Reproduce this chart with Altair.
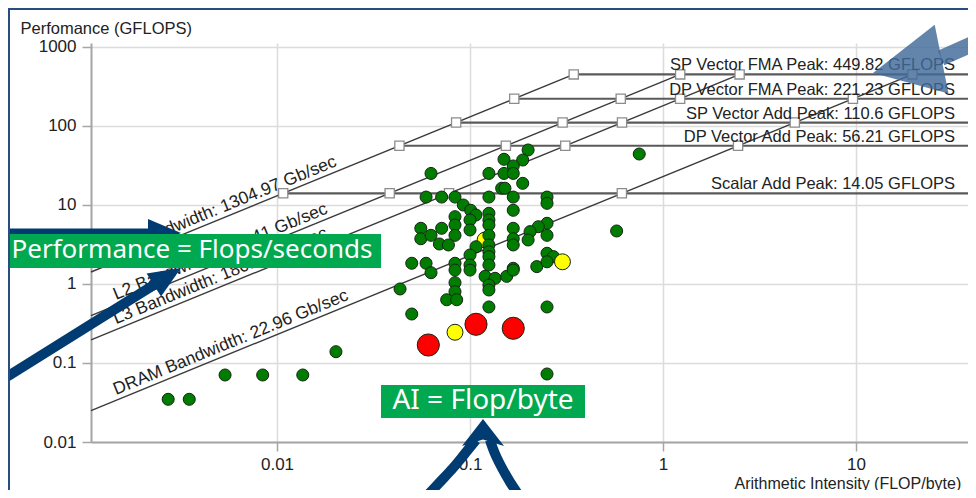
import altair as alt
import pandas as pd

# ---------------- data ----------------
peak_names = ["SP Vector FMA Peak", "DP Vector FMA Peak", "SP Vector Add Peak",
              "DP Vector Add Peak", "Scalar Add Peak"]
peak_values = [449.82, 221.23, 110.6, 56.21, 14.05]

bw_names = ["L1 Bandwidth", "L2 Bandwidth", "L3 Bandwidth", "DRAM Bandwidth"]
bw_values = [1304.97, 366.41, 180.37, 22.96]

green_ai = [0.0628, 0.200, 0.150, 0.1875, 0.1675, 0.1253, 0.150, 0.1675, 0.1875, 0.1459,
            0.1517, 0.0592, 0.0713, 0.0836, 0.1253, 0.1675, 0.2506, 0.2506, 0.0923, 0.1008,
            0.1675, 0.1253, 0.0836, 0.1074, 0.100, 0.1253, 0.0836, 0.1253, 0.0556, 0.0713,
            0.100, 0.1675, 0.2506, 0.226, 0.2047, 0.2506, 0.0556, 0.0628, 0.0836, 0.1253,
            0.1675, 0.200, 0.0694, 0.0773, 0.1074, 0.1253, 0.1675, 0.1253, 0.100, 0.1253,
            0.2506, 0.2705, 0.0499, 0.0592, 0.0836, 0.100, 0.1253, 0.1675, 0.2218, 0.0628,
            0.0836, 0.100, 0.1197, 0.1349, 0.1549, 0.1675, 0.2506, 0.0434, 0.0836, 0.0836,
            0.0757, 0.0853, 0.1253, 0.1253, 0.1253, 0.0499, 0.2506, 0.2506, 0.753, 0.575,
            0.00273, 0.00351, 0.00538, 0.00843, 0.0136, 0.0202]
green_perf = [25.1, 49.7, 37.9, 37.1, 31.2, 25.1, 25.1, 25.1, 18.8, 16.3,
              16.3, 12.6, 12.6, 12.6, 12.6, 12.6, 12.6, 10.5, 10.0, 8.57,
              8.57, 7.85, 7.11, 7.47, 6.46, 6.46, 5.58, 5.58, 5.07, 5.07,
              4.83, 5.07, 5.87, 5.31, 4.60, 4.13, 3.74, 4.13, 4.13, 4.13,
              3.74, 3.61, 3.21, 3.12, 2.96, 3.12, 3.12, 2.56, 2.33, 2.22,
              2.45, 2.22, 1.83, 1.83, 1.83, 1.74, 1.74, 1.58, 1.66, 1.39,
              1.50, 1.50, 1.25, 1.18, 1.25, 1.50, 1.91, 0.865, 1.04, 0.80,
              0.632, 0.632, 0.97, 0.84, 0.512, 0.417, 0.512, 0.0726, 44.2, 4.69,
              0.0347, 0.0347, 0.0705, 0.0705, 0.0705, 0.139]

yellow_hidden_ai = [0.1197]
yellow_hidden_perf = [3.61]
yellow_ai = [0.3013, 0.0836]
yellow_perf = [1.91, 0.245]
red_ai = [0.1074, 0.1675, 0.0608]
red_perf = [0.309, 0.275, 0.169]

x_ticks = [0.01, 0.1, 1, 10]
y_ticks = [0.01, 0.1, 1, 10, 100, 1000]
x_domain = [0.001087, 38.04]
y_domain = [0.01, 1123.6]
label_ai = 0.0015

# ---------------- layout helpers (decoration only) ----------------
W, H = 877, 399
OX, OY = 91, 43          # page position of plot origin


def vx(px):
    return px - OX


def vy(py):
    return py - OY


NAVY = "#003c71"
GREEN_BOX = "#00a84f"
TXT = "#222222"
FONT = "Liberation Sans"

xscale = alt.Scale(type="log", domain=x_domain, nice=False, zero=False)
yscale = alt.Scale(type="log", domain=y_domain, nice=False, zero=False)
xaxis = alt.Axis(values=x_ticks, format="~g", grid=True, gridColor="#dcdcdc", gridWidth=1.5,
                 domainColor="#a5a5a5", domainWidth=2, tickColor="#a5a5a5", tickSize=9,
                 tickWidth=1.5, labelFontSize=17, labelColor=TXT, labelFont=FONT, labelPadding=5,
                 labelFlush=False,
                 title="Arithmetic Intensity (FLOP/byte)", titleFont=FONT, titleFontSize=16,
                 titleFontWeight="normal", titleColor=TXT, titleAlign="left",
                 titleX=vx(734), titleY=46, titleBaseline="alphabetic")
yaxis = alt.Axis(values=y_ticks, format="~g", grid=True, gridColor="#dcdcdc", gridWidth=1.5,
                 domainColor="#a5a5a5", domainWidth=2, tickColor="#a5a5a5", tickSize=9,
                 tickWidth=1.5, labelFontSize=17, labelColor=TXT, labelFont=FONT, labelPadding=6,
                 labelFlush=False,
                 title="Perfomance (GFLOPS)", titleFont=FONT, titleFontSize=16.5,
                 titleFontWeight="normal", titleColor=TXT, titleAngle=0, titleAlign="left",
                 titleX=vx(20), titleY=vy(28), titleBaseline="middle")


def X():
    return alt.X("ai:Q", scale=xscale, axis=xaxis)


def Y():
    return alt.Y("perf:Q", scale=yscale, axis=yaxis)


# ---------------- roofline tables ----------------
top_peak = max(peak_values)
diag_rows = []
for n, b in zip(bw_names, bw_values):
    diag_rows.append({"name": n, "ai": x_domain[0], "perf": b * x_domain[0]})
    diag_rows.append({"name": n, "ai": top_peak / b, "perf": top_peak})
diag_df = pd.DataFrame(diag_rows)

hor_rows = []
for n, p in zip(peak_names, peak_values):
    hor_rows.append({"name": n, "ai": p / bw_values[0], "perf": p})
    hor_rows.append({"name": n, "ai": x_domain[1], "perf": p})
hor_df = pd.DataFrame(hor_rows)

sq_df = pd.DataFrame([{"ai": p / b, "perf": p} for b in bw_values for p in peak_values])

peak_lab_df = pd.DataFrame({"perf": peak_values,
                            "label": [f"{n}: {v} GFLOPS" for n, v in zip(peak_names, peak_values)]})
bw_lab_df = pd.DataFrame({"ai": [label_ai] * len(bw_values),
                          "perf": [b * label_ai for b in bw_values],
                          "label": [f"{n}: {v} Gb/sec" for n, v in zip(bw_names, bw_values)]})

green_df = pd.DataFrame({"ai": green_ai, "perf": green_perf})
yh_df = pd.DataFrame({"ai": yellow_hidden_ai, "perf": yellow_hidden_perf})
yellow_df = pd.DataFrame({"ai": yellow_ai, "perf": yellow_perf})
red_df = pd.DataFrame({"ai": red_ai, "perf": red_perf})

one = pd.DataFrame({"a": [0]})

# ---------------- layers ----------------
diag = alt.Chart(diag_df).mark_line(color="#3a3a3a", strokeWidth=1.4).encode(
    x=X(), y=Y(), detail="name:N")
hor = alt.Chart(hor_df).mark_line(color="#5a5a5a", strokeWidth=2.2).encode(
    x=X(), y=Y(), detail="name:N")
squares = alt.Chart(sq_df).mark_point(shape="square", filled=True, fill="white", stroke="#8c8c8c",
                                      strokeWidth=1.3, size=85, opacity=1).encode(x=X(), y=Y())
peak_labels = alt.Chart(peak_lab_df).mark_text(align="right", baseline="alphabetic", dy=-4,
                                               fontSize=16.5, font=FONT, color=TXT).encode(
    x=alt.value(vx(955)), y=Y(), text="label:N")
bw_labels = alt.Chart(bw_lab_df).mark_text(align="left", baseline="alphabetic", dy=-5,
                                           angle=337.74, fontSize=17.5, font=FONT, color=TXT).encode(
    x=X(), y=Y(), text="label:N")

dot_stroke = "#152515"
yh = alt.Chart(yh_df).mark_circle(size=254, color="#ffff00", stroke=dot_stroke, strokeWidth=1,
                                  opacity=1).encode(x=X(), y=Y())
greens = alt.Chart(green_df).mark_circle(size=145, color="#007d00", stroke=dot_stroke,
                                         strokeWidth=1, opacity=1).encode(x=X(), y=Y())
yellows = alt.Chart(yellow_df).mark_circle(size=254, color="#ffff00", stroke=dot_stroke,
                                           strokeWidth=1, opacity=1).encode(x=X(), y=Y())
reds = alt.Chart(red_df).mark_circle(size=490, color="#ff0000", stroke=dot_stroke,
                                     strokeWidth=1, opacity=1).encode(x=X(), y=Y())

# decorations: arrows
head_tri = "M1,0L-1,-0.85L-1,0.85Z"
h_shaft = alt.Chart(one).mark_rule(color=NAVY, strokeWidth=9, strokeCap="butt").encode(
    x=alt.value(vx(-10)), x2=alt.value(vx(150)), y=alt.value(vy(233)), y2=alt.value(vy(233)))
h_head = alt.Chart(one).mark_point(shape=head_tri, filled=True, color=NAVY, opacity=1,
                                   size=1089, angle=0, strokeWidth=0).encode(
    x=alt.value(vx(164.5)), y=alt.value(vy(233)))

d_shaft = alt.Chart(one).mark_rule(color=NAVY, strokeWidth=10, strokeCap="butt").encode(
    x=alt.value(vx(-10)), y=alt.value(vy(387.4)), x2=alt.value(vx(155)), y2=alt.value(vy(284.3)))
d_head = alt.Chart(one).mark_point(shape=head_tri, filled=True, color=NAVY, opacity=1,
                                   size=1024, angle=328, strokeWidth=0).encode(
    x=alt.value(vx(167.4)), y=alt.value(vy(276.5)))

curve_df = pd.DataFrame({
    "side": ["l"] * 6 + ["r"] * 6,
    "i": list(range(6)) * 2,
    "px": [vx(v) for v in [423, 440, 453, 463, 471, 476]] + [vx(v) for v in [522, 510, 502, 496, 492, 490]],
    "py": [vy(v) for v in [500, 482, 468, 456, 446, 440]] * 2,
})
curves = alt.Chart(curve_df).mark_line(color=NAVY, strokeWidth=10, interpolate="cardinal").encode(
    x=alt.X("px:Q", scale=None, axis=None), y=alt.Y("py:Q", scale=None, axis=None),
    detail="side:N", order="i:Q")
arch_head = alt.Chart(one).mark_point(shape="M0,-0.64L1,0.64L0,0.33L-1,0.64Z", filled=True,
                                      color=NAVY, opacity=1, size=1764, strokeWidth=0).encode(
    x=alt.value(vx(483)), y=alt.value(vy(432.5)))

ARROW2 = "#416a99"
tr_shaft = alt.Chart(one).mark_rule(color=ARROW2, opacity=0.82, strokeWidth=16, strokeCap="butt").encode(
    x=alt.value(vx(941)), y=alt.value(vy(58)), x2=alt.value(vx(995)), y2=alt.value(vy(34)))
tr_head = alt.Chart(one).mark_point(shape="M1,0L-1,-1L-1,1Z", filled=True, color=ARROW2,
                                    opacity=0.82, size=4900, angle=168.6, strokeWidth=0).encode(
    x=alt.value(vx(907.3)), y=alt.value(vy(66.1)))

# green boxes
box1 = alt.Chart(one).mark_rect(color=GREEN_BOX, opacity=1).encode(
    x=alt.value(vx(0)), x2=alt.value(vx(381)), y=alt.value(vy(234)), y2=alt.value(vy(268)))
box1_txt = alt.Chart(one).mark_text(text="Performance = Flops/seconds", font="Noto Sans",
                                    fontSize=26, color="white", align="center",
                                    baseline="middle").encode(
    x=alt.value(vx(192)), y=alt.value(vy(250)))
box2 = alt.Chart(one).mark_rect(color=GREEN_BOX, opacity=1).encode(
    x=alt.value(vx(381)), x2=alt.value(vx(585)), y=alt.value(vy(385)), y2=alt.value(vy(418)))
box2_txt = alt.Chart(one).mark_text(text="AI = Flop/byte", font="Noto Sans", fontSize=28,
                                    color="white", align="center", baseline="middle").encode(
    x=alt.value(vx(483)), y=alt.value(vy(401)))

# frame
FRAME = "#2a4d7f"
frame_top = alt.Chart(one).mark_rule(color=FRAME, strokeWidth=2).encode(
    x=alt.value(vx(8)), x2=alt.value(vx(980)), y=alt.value(vy(9)), y2=alt.value(vy(9)))
frame_left = alt.Chart(one).mark_rule(color=FRAME, strokeWidth=2).encode(
    x=alt.value(vx(9)), x2=alt.value(vx(9)), y=alt.value(vy(8)), y2=alt.value(vy(500)))

chart = alt.layer(
    diag, hor, squares, peak_labels, bw_labels,
    yh, greens, yellows, reds,
    h_shaft, h_head, d_shaft, d_head, curves, arch_head,
    box1, box1_txt, box2, box2_txt,
    tr_shaft, tr_head,
    frame_top, frame_left,
).properties(
    width=W, height=H,
    autosize=alt.AutoSizeParams(type="none"),
    padding={"left": OX - 8, "top": OY - 8, "right": 0, "bottom": 48},
    background="white",
).configure_view(stroke=None)

chart.save("out.html", embed_options={"renderer": "svg", "actions": False})
